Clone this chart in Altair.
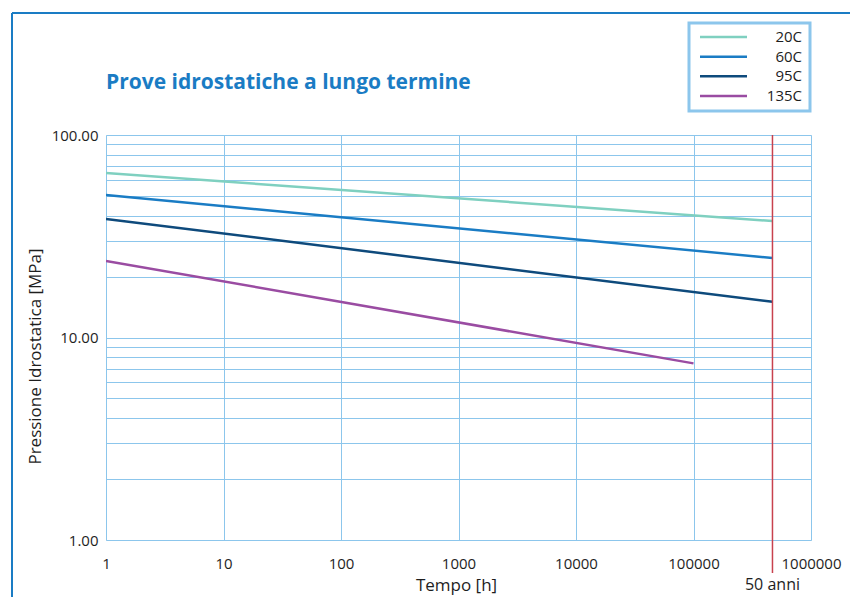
import altair as alt
import pandas as pd

temps = ["20C", "60C", "95C", "135C"]
colors = ["#7fd0c0", "#1a7cc4", "#0e4a7c", "#9a4ca2"]
t_start = [1, 1, 1, 1]
t_end = [470000, 470000, 470000, 100000]
p_start = [64.9, 50.5, 38.5, 23.9]
p_end = [37.6, 24.7, 15.0, 7.45]

x_ticks = [1, 10, 100, 1000, 10000, 100000, 1000000]
y_grid = [m * 10 ** k for k in range(0, 2) for m in range(1, 10)] + [100]
fifty_years = [470000]
fifty_label = ["50 anni"]
title_text = ["Prove idrostatiche a lungo termine"]

rows = []
for name, t0, t1, p0, p1 in zip(temps, t_start, t_end, p_start, p_end):
    rows.append({"serie": name, "t": t0, "p": p0})
    rows.append({"serie": name, "t": t1, "p": p1})
df = pd.DataFrame(rows)

FONT = "Open Sans"
TXT = "#1e1e1e"
GRID = "#8cc6ec"
xscale = alt.Scale(type="log", domain=[1, 1000000], nice=False)
yscale = alt.Scale(type="log", domain=[1, 100], nice=False)
cscale = alt.Scale(domain=temps, range=colors)

lines = alt.Chart(df).mark_line(strokeWidth=2.5, clip=True).encode(
    x=alt.X("t:Q", scale=xscale,
            axis=alt.Axis(values=x_ticks, format="d", title="Tempo [h]",
                          grid=True, gridColor=GRID, gridWidth=1,
                          ticks=False, domain=False, labelPadding=16,
                          labelFontSize=15, labelColor=TXT, labelFont=FONT,
                          titleFont=FONT, titleFontSize=17, titleFontWeight="normal",
                          titleColor=TXT, titleX=350, titleY=45,
                          titleBaseline="middle", labelFlush=False)),
    y=alt.Y("p:Q", scale=yscale,
            axis=alt.Axis(values=y_grid, title="Pressione Idrostatica [MPa]",
                          labelExpr="indexof([1,10,100], datum.value) >= 0 ? format(datum.value, '.2f') : ''",
                          grid=True, gridColor=GRID, gridWidth=1,
                          ticks=False, domain=False, labelPadding=8,
                          labelFontSize=15, labelColor=TXT, labelFont=FONT,
                          titleFont=FONT, titleFontSize=17, titleFontWeight="normal",
                          titleColor=TXT, titleX=-66, titleY=221,
                          titleBaseline="alphabetic")),
    color=alt.Color("serie:N", scale=cscale, legend=None),
)

rule_df = pd.DataFrame({"t": fifty_years, "label": fifty_label})
red = alt.Chart(rule_df).mark_rule(color="#c8424e", strokeWidth=1.5).encode(
    x=alt.X("t:Q", scale=xscale), y=alt.value(0), y2=alt.value(438))
red_text = alt.Chart(rule_df).mark_text(font=FONT, fontSize=16, color=TXT,
                                        baseline="middle").encode(
    x=alt.X("t:Q", scale=xscale), y=alt.value(450), text="label:N")

title_df = pd.DataFrame({"text": title_text})
title = alt.Chart(title_df).mark_text(font=FONT, fontSize=21, fontWeight="bold",
                                      color="#1a7cc4", align="left",
                                      baseline="alphabetic").encode(
    x=alt.value(0), y=alt.value(-46), text="text:N")

frame_df = pd.DataFrame({"k": [0]})
frame_left = alt.Chart(frame_df).mark_rule(color="#1a7cc4", strokeWidth=2).encode(
    x=alt.value(-94), y=alt.value(-122), y2=alt.value(480))
frame_top = alt.Chart(frame_df).mark_rule(color="#1a7cc4", strokeWidth=2).encode(
    x=alt.value(-94), x2=alt.value(760), y=alt.value(-122))

# legend (drawn as its own small layer)
leg_df = pd.DataFrame({"serie": temps})
leg_y = alt.Y("serie:N", scale=alt.Scale(type="point", domain=temps,
                                         range=[-98, -39], padding=0), axis=None)
leg_box = alt.Chart(frame_df).mark_rect(fill="white", stroke=GRID, strokeWidth=3).encode(
    x=alt.value(583), x2=alt.value(704), y=alt.value(-112), y2=alt.value(-24))
leg_lines = alt.Chart(leg_df).mark_rule(strokeWidth=2.5).encode(
    x=alt.value(594), x2=alt.value(641), y=leg_y,
    color=alt.Color("serie:N", scale=cscale, legend=None))
leg_text = alt.Chart(leg_df).mark_text(font=FONT, fontSize=15, color=TXT,
                                       align="right", baseline="middle").encode(
    x=alt.value(696), y=leg_y, text="serie:N")

chart = alt.layer(frame_left, frame_top, lines, red, red_text, title,
                  leg_box, leg_lines, leg_text).resolve_scale(y="independent").properties(
    width=705, height=405,
    autosize=alt.AutoSizeParams(type="none"),
    padding={"left": 98, "top": 127, "right": 39, "bottom": 57},
).configure_view(stroke="#7fbde8", strokeWidth=3).configure(background="white")

chart.save("out.html", embed_options={"renderer": "svg", "actions": False})
